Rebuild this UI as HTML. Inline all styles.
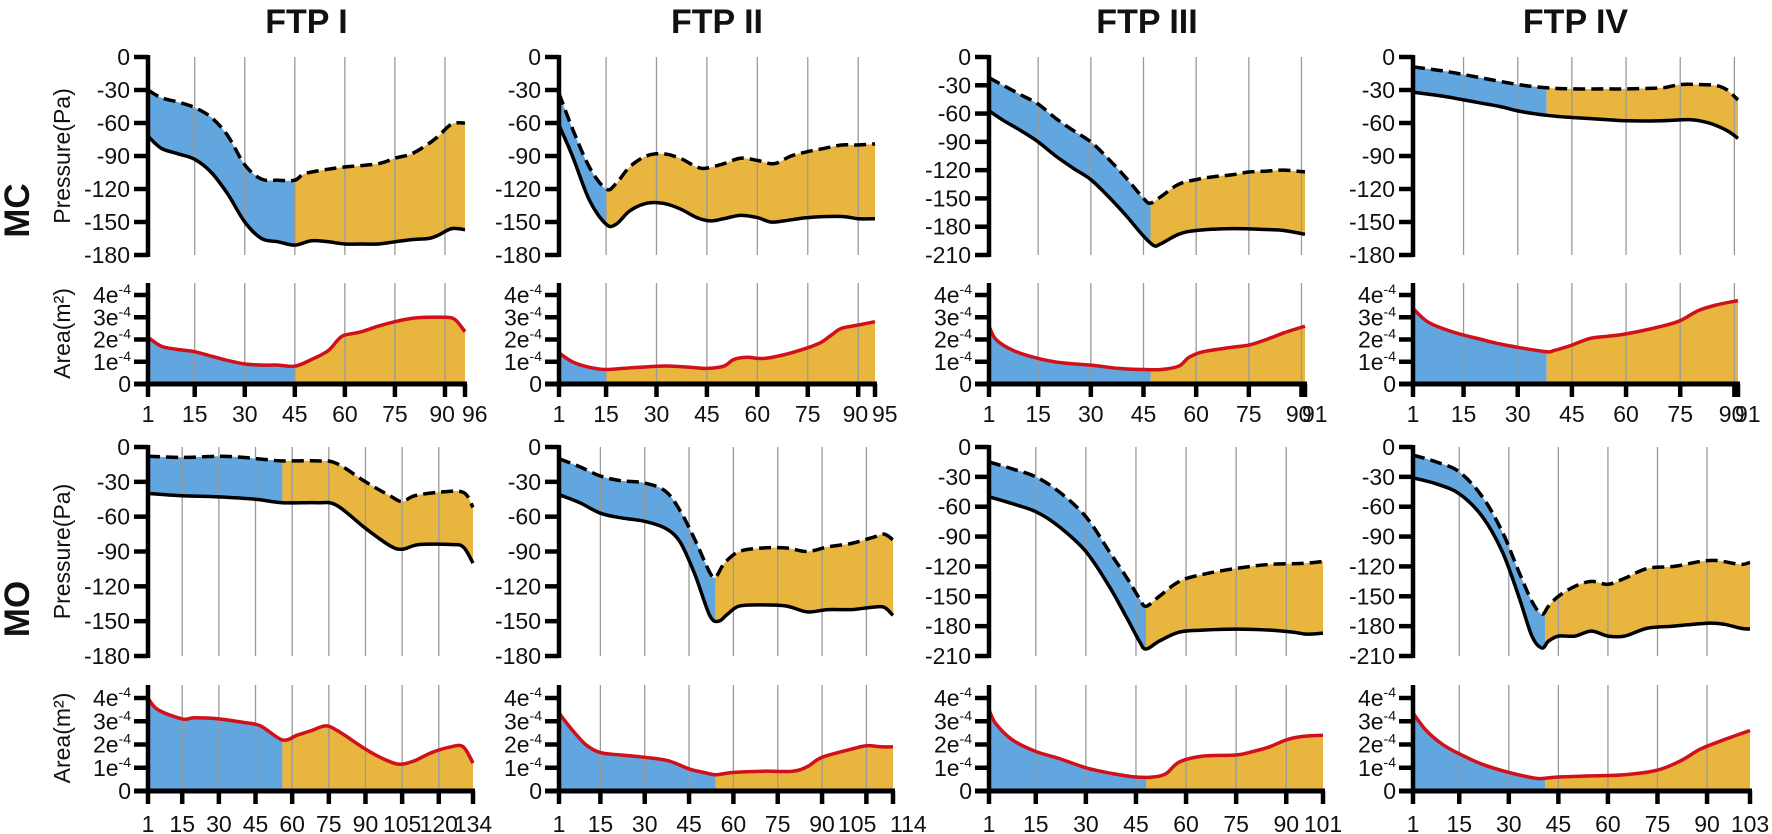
<!DOCTYPE html>
<html><head><meta charset="utf-8"><title>FTP pressure and area</title>
<style>
html,body{margin:0;padding:0;background:#fff;}
svg{display:block;font-family:"Liberation Sans",Arial,sans-serif;}
</style></head>
<body>
<svg id="chart" width="1772" height="834" viewBox="0 0 1772 834" xmlns="http://www.w3.org/2000/svg"></svg>
<script>
// ---------- DATA (index, value) ----------
const colTitles = ["FTP I","FTP II","FTP III","FTP IV"];
const rowTitles = ["MC","MO"];
const lengths = [96,95,91,91,134,114,101,103];
const splits  = [45,15,47,38,56,54,48,41];
const pressureMins = [-180,-180,-210,-180,-180,-180,-210,-210];
const areaTicks = [0,1,2,3,4];

const mcI_upper = [[1,-30],[5,-37],[10,-41],[15,-46],[20,-55],[25,-72],[30,-98],[35,-111],[40,-112],[45,-112],[48,-106],[55,-102],[60,-100],[70,-97],[75,-92],[80,-88],[85,-79],[88,-72],[92,-61],[96,-60]];
const mcI_lower = [[1,-72],[5,-83],[10,-88],[15,-93],[20,-105],[25,-125],[30,-150],[35,-165],[40,-168],[45,-171],[50,-167],[55,-168],[60,-170],[65,-170],[70,-170],[75,-168],[80,-166],[85,-165],[88,-162],[92,-156],[96,-157]];
const mcI_area  = [[1,2.1],[5,1.7],[10,1.55],[15,1.45],[20,1.25],[25,1.05],[30,0.9],[35,0.85],[40,0.85],[45,0.8],[50,1.1],[55,1.5],[58,2.0],[60,2.2],[65,2.35],[70,2.6],[75,2.8],[80,2.95],[85,3.0],[90,3.0],[93,2.9],[96,2.35]];

const mcII_upper = [[1,-33],[5,-65],[10,-100],[15,-120],[18,-115],[22,-100],[27,-90],[32,-88],[37,-92],[42,-100],[45,-101],[50,-97],[55,-92],[60,-94],[65,-97],[70,-90],[75,-86],[80,-83],[85,-80],[90,-80],[95,-79]];
const mcII_lower = [[1,-62],[5,-90],[10,-130],[15,-152],[18,-152],[22,-140],[27,-133],[32,-133],[37,-138],[42,-146],[46,-149],[50,-147],[55,-144],[60,-146],[64,-150],[68,-149],[75,-146],[85,-145],[90,-147],[95,-147]];
const mcII_area  = [[1,1.4],[5,1.0],[10,0.75],[15,0.65],[20,0.7],[30,0.8],[35,0.8],[40,0.75],[45,0.7],[50,0.8],[53,1.1],[57,1.2],[62,1.15],[70,1.4],[78,1.8],[82,2.2],[85,2.5],[90,2.65],[95,2.8]];

const mcIII_upper = [[1,-22],[5,-30],[10,-40],[15,-50],[20,-65],[25,-78],[30,-90],[35,-108],[40,-128],[45,-150],[47,-155],[50,-148],[55,-135],[60,-130],[65,-127],[70,-125],[75,-122],[80,-121],[85,-120],[91,-122]];
const mcIII_lower = [[1,-57],[5,-67],[10,-78],[15,-90],[20,-105],[25,-118],[30,-130],[35,-148],[40,-168],[45,-190],[48,-200],[50,-198],[55,-188],[60,-184],[70,-182],[80,-183],[85,-184],[91,-188]];
const mcIII_area  = [[1,2.6],[3,2.0],[8,1.5],[15,1.15],[22,0.95],[30,0.85],[38,0.7],[45,0.65],[50,0.65],[55,0.8],[58,1.2],[62,1.45],[70,1.65],[75,1.75],[80,2.0],[85,2.3],[91,2.6]];

const mcIV_upper = [[1,-9],[10,-13],[15,-16],[20,-19],[30,-25],[38,-28],[45,-29],[55,-29],[60,-29],[70,-28],[75,-25],[80,-25],[85,-26],[88,-30],[91,-39]];
const mcIV_lower = [[1,-32],[10,-36],[15,-39],[25,-45],[30,-49],[38,-53],[45,-55],[55,-57],[60,-58],[70,-58],[78,-57],[83,-60],[88,-67],[91,-74]];
const mcIV_area  = [[1,3.4],[5,2.8],[10,2.45],[15,2.2],[20,2.0],[25,1.8],[30,1.65],[38,1.45],[40,1.5],[45,1.75],[50,2.05],[55,2.15],[60,2.25],[70,2.6],[75,2.85],[80,3.3],[85,3.55],[91,3.75]];

const moI_upper = [[1,-8],[15,-9],[30,-8],[40,-9],[50,-11],[56,-12],[70,-12],[78,-14],[90,-30],[100,-42],[105,-47],[110,-42],[120,-39],[130,-39],[134,-52]];
const moI_lower = [[1,-40],[15,-42],[30,-43],[45,-45],[56,-48],[70,-48],[78,-50],[90,-70],[100,-85],[105,-88],[112,-84],[125,-84],[130,-86],[134,-100]];
const moI_area  = [[1,4.0],[5,3.5],[15,3.1],[20,3.15],[30,3.1],[40,2.95],[47,2.8],[56,2.2],[62,2.4],[68,2.6],[74,2.8],[80,2.5],[90,1.8],[98,1.35],[104,1.15],[110,1.3],[117,1.65],[125,1.9],[130,1.9],[134,1.2]];

const moII_upper = [[1,-10],[8,-17],[15,-25],[22,-29],[30,-31],[37,-38],[42,-55],[47,-80],[52,-108],[54,-112],[57,-100],[62,-90],[70,-87],[78,-87],[85,-90],[92,-86],[100,-83],[107,-78],[111,-75],[114,-80]];
const moII_lower = [[1,-41],[8,-48],[15,-57],[22,-61],[30,-64],[37,-70],[42,-82],[47,-110],[52,-145],[55,-150],[58,-144],[62,-137],[70,-136],[78,-137],[85,-142],[92,-140],[100,-140],[107,-138],[111,-138],[114,-145]];
const moII_area  = [[1,3.35],[5,2.7],[10,2.0],[15,1.65],[22,1.55],[30,1.45],[38,1.3],[45,0.95],[50,0.8],[54,0.7],[60,0.8],[70,0.85],[80,0.85],[85,1.05],[90,1.45],[100,1.8],[105,1.95],[110,1.9],[114,1.9]];

const moIII_upper = [[1,-15],[8,-22],[15,-30],[22,-45],[30,-70],[37,-105],[42,-130],[46,-152],[48,-160],[52,-150],[58,-135],[65,-128],[75,-122],[85,-118],[95,-117],[101,-115]];
const moIII_lower = [[1,-50],[8,-57],[15,-65],[22,-80],[30,-105],[37,-140],[42,-170],[46,-195],[48,-203],[52,-195],[58,-186],[65,-184],[75,-183],[85,-184],[92,-186],[96,-188],[101,-187]];
const moIII_area  = [[1,3.5],[3,2.9],[8,2.2],[15,1.7],[22,1.4],[30,1.0],[38,0.75],[45,0.6],[50,0.6],[54,0.75],[58,1.25],[65,1.5],[75,1.55],[80,1.7],[85,1.9],[90,2.2],[95,2.35],[101,2.4]];

const moIV_upper = [[1,-8],[8,-15],[15,-25],[22,-50],[28,-85],[33,-125],[37,-155],[40,-168],[42,-160],[45,-150],[50,-140],[55,-135],[60,-138],[65,-132],[72,-122],[80,-120],[88,-115],[93,-114],[100,-118],[103,-116]];
const moIV_lower = [[1,-31],[8,-37],[15,-47],[22,-70],[28,-105],[33,-150],[37,-190],[40,-202],[42,-195],[45,-190],[50,-190],[55,-185],[60,-190],[65,-190],[72,-182],[80,-180],[90,-177],[95,-178],[100,-182],[103,-183]];
const moIV_area  = [[1,3.35],[5,2.6],[10,2.0],[15,1.6],[22,1.15],[30,0.8],[38,0.55],[41,0.55],[45,0.6],[55,0.65],[65,0.7],[75,0.9],[82,1.3],[88,1.8],[95,2.2],[103,2.6]];

const uppers = [mcI_upper,mcII_upper,mcIII_upper,mcIV_upper,moI_upper,moII_upper,moIII_upper,moIV_upper];
const lowers = [mcI_lower,mcII_lower,mcIII_lower,mcIV_lower,moI_lower,moII_lower,moIII_lower,moIV_lower];
const areas  = [mcI_area,mcII_area,mcIII_area,mcIV_area,moI_area,moII_area,moIII_area,moIV_area];

// ---------- LAYOUT ----------
const NS = "http://www.w3.org/2000/svg";
const svg = document.getElementById("chart");
const axisXs = [148,559,989,1413];
const rightEnds = [[465,875,1305,1738],[473,893,1323,1750]];
const rowGeom = [
  {pTop:57,pBot:255,aTop:283,aZero:384,aFour:295,labY:422},
  {pTop:447,pBot:656,aTop:685,aZero:791,aFour:698,labY:832}
];
const BLUE="#62a6df", ORANGE="#e8b53f", RED="#d0101b";

function mk(tag, attrs, parent){
  const e=document.createElementNS(NS,tag);
  for(const k in attrs) e.setAttribute(k,attrs[k]);
  (parent||svg).appendChild(e);
  return e;
}
function smooth(P){
  let d="M"+P[0][0].toFixed(1)+","+P[0][1].toFixed(1);
  for(let i=0;i<P.length-1;i++){
    const p0=P[i-1]||P[i], p1=P[i], p2=P[i+1], p3=P[i+2]||P[i+1];
    const c1=[p1[0]+(p2[0]-p0[0])/6, p1[1]+(p2[1]-p0[1])/6];
    const c2=[p2[0]-(p3[0]-p1[0])/6, p2[1]-(p3[1]-p1[1])/6];
    d+="C"+c1[0].toFixed(1)+","+c1[1].toFixed(1)+" "+c2[0].toFixed(1)+","+c2[1].toFixed(1)+" "+p2[0].toFixed(1)+","+p2[1].toFixed(1);
  }
  return d;
}
function smoothCont(P){ return smooth(P).replace(/^M/,"L"); }

colTitles.forEach((t,c)=>{
  const x0=axisXs[c], x1=rightEnds[0][c];
  const el=mk("text",{x:(x0+x1)/2,y:33,"text-anchor":"middle","font-size":34,"font-weight":"bold",fill:"#111"});
  
  
  el.textContent=t;
});
rowTitles.forEach((t,r)=>{
  const g=rowGeom[r]; const cy=(g.pTop+g.aZero)/2 - 10;
  const el=mk("text",{x:0,y:0,transform:"translate(29,"+cy+") rotate(-90)","text-anchor":"middle","font-size":35,"font-weight":"bold",fill:"#111"});
  
  
  el.textContent=t;
});

for(let p=0;p<8;p++){
  const r=Math.floor(p/4), c=p%4, g=rowGeom[r];
  const n=lengths[p], split=splits[p], ymin=pressureMins[p];
  const x0=axisXs[c], x1=rightEnds[r][c];
  const xs=v=>x0+(v-1)*(x1-x0)/(n-1);
  const yp=v=>g.pTop+(v/ymin)*(g.pBot-g.pTop);
  const ya=v=>g.aZero-(v/4)*(g.aZero-g.aFour);
  const grp=mk("g",{});
  
  

  const defs=mk("defs",{},grp);
  const cb=mk("clipPath",{id:"cb"+p},defs);
  mk("rect",{x:x0-2,y:0,width:xs(split)-x0+2,height:834},cb);
  const co=mk("clipPath",{id:"co"+p},defs);
  mk("rect",{x:xs(split),y:0,width:x1-xs(split)+4,height:834},co);

  const U=uppers[p].map(q=>[xs(q[0]),yp(q[1])]);
  const L=lowers[p].map(q=>[xs(q[0]),yp(q[1])]).reverse();
  const band=smooth(U)+smoothCont(L)+"Z";
  const fb=mk("path",{d:band,fill:BLUE,"clip-path":"url(#cb"+p+")"},grp);
  
  
  const fo=mk("path",{d:band,fill:ORANGE,"clip-path":"url(#co"+p+")"},grp);
  
  

  const A=areas[p].map(q=>[xs(q[0]),ya(q[1])]);
  const af=smooth(A)+"L"+A[A.length-1][0]+","+g.aZero+"L"+A[0][0]+","+g.aZero+"Z";
  const ab=mk("path",{d:af,fill:BLUE,"clip-path":"url(#cb"+p+")"},grp);
  
  
  const ao=mk("path",{d:af,fill:ORANGE,"clip-path":"url(#co"+p+")"},grp);
  
  

  const ticks=[1]; for(let t=15;t<n;t+=15) ticks.push(t); ticks.push(n);
  const last=ticks.length-1;
  const tight = xs(ticks[last])-xs(ticks[last-1]) < 30;
  ticks.forEach((t,i)=>{
    const x=xs(t);
    if(i>0 && i<last){
      const gl1=mk("line",{x1:x,x2:x,y1:g.pTop,y2:g.pBot,stroke:"#9a9a9a","stroke-width":1.3},grp);
      
      
      const gl2=mk("line",{x1:x,x2:x,y1:g.aTop,y2:g.aZero,stroke:"#9a9a9a","stroke-width":1.3},grp);
      
      
    }
    const tk=mk("line",{x1:x,x2:x,y1:g.aZero,y2:g.aZero+13,stroke:"#000","stroke-width":4.5},grp);
    
    
    let lx=x, anchor="middle";
    if(tight && i===last-1){ lx=x+10; anchor="end"; }
    if(tight && i===last){ lx=x-3; anchor="start"; }
    const lb=mk("text",{x:lx,y:g.labY,"text-anchor":anchor,"font-size":23,fill:"#111"},grp);
    
    
    lb.textContent=t;
  });

  const up=mk("path",{d:smooth(uppers[p].map(q=>[xs(q[0]),yp(q[1])])),fill:"none",stroke:"#000","stroke-width":3.5,"stroke-dasharray":"12 6"},grp);
  
  
  const lo=mk("path",{d:smooth(lowers[p].map(q=>[xs(q[0]),yp(q[1])])),fill:"none",stroke:"#000","stroke-width":3.5},grp);
  
  
  const ar=mk("path",{d:smooth(A),fill:"none",stroke:RED,"stroke-width":3.5},grp);
  
  

  const pa=mk("line",{x1:x0,x2:x0,y1:g.pTop-2,y2:g.pBot+2,stroke:"#000","stroke-width":4.5},grp);
  
  
  for(let v=0; v>=ymin; v-=30){
    const y=yp(v);
    const t=mk("line",{x1:x0-14,x2:x0,y1:y,y2:y,stroke:"#000","stroke-width":4.5},grp);
    
    
    const l=mk("text",{x:x0-18,y:y+8,"text-anchor":"end","font-size":23,fill:"#111"},grp);
    
    
    l.textContent=v;
  }
  const aa=mk("line",{x1:x0,x2:x0,y1:g.aTop,y2:g.aZero,stroke:"#000","stroke-width":4.5},grp);
  
  
  const xa=mk("line",{x1:x0-14,x2:x1+2,y1:g.aZero,y2:g.aZero,stroke:"#000","stroke-width":5},grp);
  
  
  areaTicks.forEach(v=>{
    const y=ya(v);
    const t=mk("line",{x1:x0-14,x2:x0,y1:y,y2:y,stroke:"#000","stroke-width":4.5},grp);
    
    
    const l=mk("text",{x:x0-17,y:y+8,"text-anchor":"end","font-size":23,fill:"#111"},grp);
    
    
    if(v===0){ l.textContent="0"; }
    else{
      const a=mk("tspan",{},l); a.textContent=v+"e";
      const b=mk("tspan",{"font-size":14,dy:-9},l); b.textContent="-4";
    }
  });

  if(c===0){
    const pcy=(g.pTop+g.pBot)/2;
    const t1=mk("text",{transform:"translate(70,"+pcy+") rotate(-90)","text-anchor":"middle","font-size":23,fill:"#111"},grp);
    
    
    t1.textContent="Pressure(Pa)";
    const acy=(g.aTop+g.aZero)/2;
    const t2=mk("text",{transform:"translate(70,"+acy+") rotate(-90)","text-anchor":"middle","font-size":23,fill:"#111"},grp);
    
    
    t2.textContent="Area(m²)";
  }
}
</script>
</body></html>
